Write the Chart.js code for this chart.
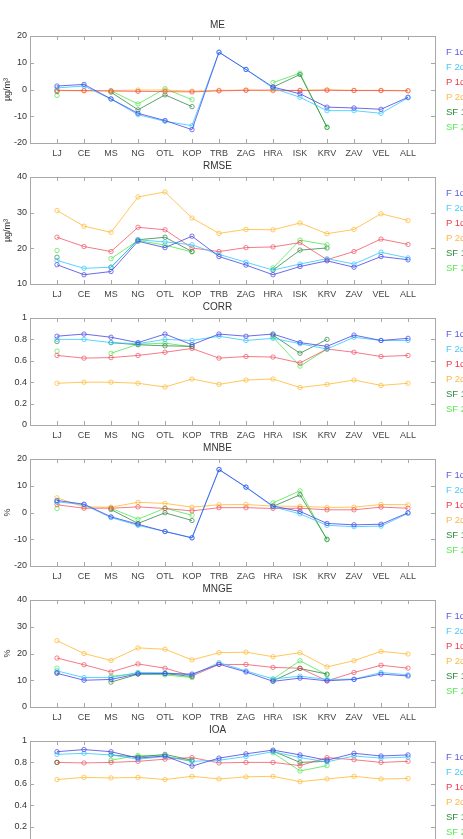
<!DOCTYPE html>
<html>
<head>
<meta charset="utf-8">
<script src="https://cdn.jsdelivr.net/npm/chart.js@4.4.0/dist/chart.umd.min.js"></script>
<style>
body { margin:0; width:463px; height:839px; overflow:hidden; background:#fff; position:relative; font-family:"Liberation Sans", Arial, sans-serif; }
.panel { position:absolute; left:0; width:463px; height:149px; }
.leg { position:absolute; left:446px; font-size:9.5px; line-height:10px; white-space:nowrap; }
</style>
</head>
<body>
<script>
var cats = ['LJ','CE','MS','NG','OTL','KOP','TRB','ZAG','HRA','ISK','KRV','ZAV','VEL','ALL'];
var seriesNames = ['F 1d','F 2d','P 1d','P 2d','SF 1','SF 2'];

// ME
var meF1 = [1.3, 1.9, -3.5, -8.9, -11.6, -15.0, 13.9, 7.5, 0.9, -1.6, -6.6, -6.9, -7.4, -2.9];
var meF2 = [0.6, 1.3, -3.6, -9.4, -11.9, -13.5, 14.0, 7.5, 0.5, -2.9, -7.9, -7.9, -8.9, -3.1];
var meP1 = [-0.3, -0.4, -0.6, -0.7, -0.8, -0.9, -0.5, -0.3, -0.2, -0.4, -0.3, -0.4, -0.4, -0.5];
var meP2 = [-0.4, -0.5, -0.4, -0.2, -0.2, -0.6, -0.3, -0.2, -0.5, -0.3, -0.1, -0.3, -0.3, -0.4];
var meSF1 = [-0.8, null, -1.0, -7.6, -2.0, -6.4, null, null, 0.9, 5.6, -14.1, null, null, null];
var meSF2 = [-2.2, null, -0.5, -5.4, 0.3, -3.8, null, null, 2.6, 6.1, -14.2, null, null, null];

// RMSE
var rmF1 = [15.4, 12.6, 13.5, 22.0, 20.2, 23.4, 17.7, 15.3, 12.6, 14.9, 16.5, 14.7, 17.7, 16.8];
var rmF2 = [16.6, 14.4, 14.7, 22.4, 21.8, 21.0, 18.3, 16.1, 13.9, 15.6, 17.1, 15.6, 18.9, 17.3];
var rmP1 = [23.1, 20.5, 19.1, 25.9, 25.2, 20.1, 19.1, 20.2, 20.4, 21.6, 16.8, 19.1, 22.6, 21.1];
var rmP2 = [30.6, 26.2, 24.5, 34.4, 35.8, 28.5, 24.2, 25.3, 25.2, 27.1, 24.1, 25.3, 29.7, 27.8];
var rmSF1 = [17.5, null, 14.7, 22.4, 23.1, 19.1, null, null, 13.9, 19.5, 20.1, null, null, null];
var rmSF2 = [19.4, null, 17.1, 22.2, 20.9, 19.0, null, null, 14.5, 22.3, 21.0, null, null, null];

// CORR
var coF1 = [0.83, 0.85, 0.82, 0.77, 0.85, 0.75, 0.85, 0.83, 0.85, 0.77, 0.735, 0.84, 0.79, 0.81];
var coF2 = [0.80, 0.80, 0.77, 0.76, 0.80, 0.79, 0.83, 0.79, 0.81, 0.76, 0.71, 0.82, 0.79, 0.79];
var coP1 = [0.65, 0.625, 0.63, 0.65, 0.68, 0.715, 0.625, 0.64, 0.635, 0.58, 0.71, 0.68, 0.64, 0.65];
var coP2 = [0.39, 0.40, 0.40, 0.39, 0.355, 0.43, 0.38, 0.42, 0.43, 0.35, 0.38, 0.42, 0.37, 0.39];
var coSF1 = [0.78, null, 0.77, 0.75, 0.74, 0.735, null, null, 0.84, 0.67, 0.80, null, null, null];
var coSF2 = [0.69, null, 0.67, 0.755, 0.765, 0.73, null, null, 0.82, 0.55, 0.71, null, null, null];

// MNBE
var mbF1 = [4.5, 3.1, -1.6, -4.4, -7.1, -9.5, 16.1, 9.5, 2.4, 0.4, -4.1, -4.6, -4.4, -0.1];
var mbF2 = [4.0, 2.9, -1.9, -4.8, -7.1, -9.4, 16.0, 9.4, 2.1, -0.5, -4.8, -5.3, -5.1, -0.3];
var mbP1 = [2.9, 1.6, 1.6, 2.1, 1.5, 0.6, 1.8, 1.8, 1.5, 1.6, 1.0, 1.0, 2.0, 1.6];
var mbP2 = [5.5, 2.1, 2.0, 3.8, 3.4, 2.0, 2.9, 3.0, 2.4, 2.3, 1.9, 2.0, 3.0, 2.9];
var mbSF1 = [3.9, null, 1.1, -4.1, -0.1, -3.0, null, null, 2.3, 6.6, -10.0, null, null, null];
var mbSF2 = [1.5, null, 1.6, -2.5, 1.6, -1.0, null, null, 3.6, 8.1, -10.2, null, null, null];

// MNGE
var mgF1 = [12.6, 10.0, 10.3, 12.4, 12.5, 12.3, 16.0, 13.1, 9.6, 10.8, 9.8, 10.3, 12.3, 11.6];
var mgF2 = [13.5, 11.0, 11.0, 12.9, 12.8, 11.9, 16.6, 13.5, 10.5, 11.5, 10.3, 10.4, 12.9, 12.0];
var mgP1 = [18.3, 15.8, 13.1, 16.1, 14.5, 11.6, 15.9, 15.9, 14.8, 14.5, 9.8, 12.9, 15.6, 14.5];
var mgP2 = [24.8, 20.0, 17.4, 22.1, 21.6, 17.6, 20.3, 20.5, 18.8, 20.3, 15.0, 17.3, 20.8, 19.8];
var mgSF1 = [12.9, null, 9.3, 12.3, 12.5, 11.4, null, null, 9.8, 14.4, 12.3, null, null, null];
var mgSF2 = [14.5, null, 11.5, 12.5, 12.0, 11.0, null, null, 10.4, 17.3, 12.0, null, null, null];

// IOA
var ioF1 = [0.90, 0.92, 0.90, 0.84, 0.86, 0.765, 0.84, 0.88, 0.915, 0.87, 0.82, 0.885, 0.86, 0.87];
var ioF2 = [0.875, 0.885, 0.87, 0.83, 0.855, 0.81, 0.82, 0.855, 0.90, 0.845, 0.805, 0.86, 0.84, 0.85];
var ioP1 = [0.80, 0.795, 0.80, 0.81, 0.83, 0.845, 0.795, 0.80, 0.80, 0.77, 0.845, 0.825, 0.80, 0.81];
var ioP2 = [0.64, 0.66, 0.655, 0.66, 0.64, 0.67, 0.645, 0.665, 0.67, 0.62, 0.645, 0.67, 0.645, 0.65];
var ioSF1 = [0.80, null, 0.87, 0.85, 0.875, 0.82, null, null, 0.905, 0.80, 0.81, null, null, null];
var ioSF2 = [0.80, null, 0.82, 0.865, 0.86, 0.81, null, null, 0.89, 0.72, 0.77, null, null, null];

var lineColors = ['rgba(70,70,230,0.8)','rgba(50,200,255,0.8)','rgba(240,50,70,0.65)','rgba(255,185,50,0.8)','rgba(40,130,60,0.75)','rgba(70,230,70,0.75)'];
var textColors = ['#5a5ae0','#4cc8f8','#ee3a4a','#fbb848','#2e8a3e','#5ae85a'];

var panels = [
  { title: 'ME',   unit: 'µg/m³', min: -20, max: 20, step: 10,  data: [meF1, meF2, meP1, meP2, meSF1, meSF2] },
  { title: 'RMSE', unit: 'µg/m³', min: 10,  max: 40, step: 10,  data: [rmF1, rmF2, rmP1, rmP2, rmSF1, rmSF2] },
  { title: 'CORR', unit: '',      min: 0,   max: 1,  step: 0.2, data: [coF1, coF2, coP1, coP2, coSF1, coSF2] },
  { title: 'MNBE', unit: '%',     min: -20, max: 20, step: 10,  data: [mbF1, mbF2, mbP1, mbP2, mbSF1, mbSF2] },
  { title: 'MNGE', unit: '%',     min: 0,   max: 40, step: 10,  data: [mgF1, mgF2, mgP1, mgP2, mgSF1, mgSF2] },
  { title: 'IOA',  unit: '',      min: 0,   max: 1,  step: 0.2, data: [ioF1, ioF2, ioP1, ioP2, ioSF1, ioSF2] }
];
var panelTops = [14, 155, 296, 437, 578, 719];
var legOffsets = [11, 26, 41, 56, 71, 86];

Chart.defaults.font.family = '"Liberation Sans", Arial, sans-serif';

// box around the axes plus MATLAB style inward ticks
var boxTicks = {
  id: 'boxTicks',
  afterDatasetsDraw: function(chart) {
    var ctx = chart.ctx, a = chart.chartArea;
    var xs = chart.scales.x, ys = chart.scales.y;
    ctx.save();
    ctx.strokeStyle = '#a8a8a8';
    ctx.lineWidth = 1;
    ctx.strokeRect(Math.round(a.left) + 0.5, Math.round(a.top) + 0.5, Math.round(a.right - a.left), Math.round(a.bottom - a.top));
    ctx.beginPath();
    for (var i = 1; i <= cats.length; i++) {
      var px = Math.round(xs.getPixelForValue(i)) + 0.5;
      ctx.moveTo(px, a.top); ctx.lineTo(px, a.top + 4);
      ctx.moveTo(px, a.bottom); ctx.lineTo(px, a.bottom - 4);
    }
    ys.ticks.forEach(function(t) {
      var py = Math.round(ys.getPixelForValue(t.value)) + 0.5;
      ctx.moveTo(a.left, py); ctx.lineTo(a.left + 4, py);
      ctx.moveTo(a.right, py); ctx.lineTo(a.right - 4, py);
    });
    ctx.stroke();
    ctx.restore();
  }
};

panels.forEach(function(p, k) {
  var div = document.createElement('div');
  div.className = 'panel';
  div.style.top = panelTops[k] + 'px';
  var canvas = document.createElement('canvas');
  canvas.width = 463;
  canvas.height = 149;
  div.appendChild(canvas);
  document.body.appendChild(div);

  var datasets = [];
  for (var s = 0; s < p.data.length; s++) {
    datasets.push({
      label: seriesNames[s],
      data: p.data[s].map(function(v, i) { return { x: i + 1, y: v }; }),
      borderColor: lineColors[s],
      backgroundColor: 'rgba(0,0,0,0)',
      borderWidth: 1,
      pointRadius: 2.2,
      pointBorderWidth: 0.9,
      pointBorderColor: lineColors[s],
      pointBackgroundColor: 'rgba(0,0,0,0)',
      spanGaps: false,
      tension: 0
    });
  }

  new Chart(canvas, {
    type: 'line',
    data: { datasets: datasets },
    options: {
      responsive: false,
      animation: false,
      layout: { padding: { left: 0, right: 28, top: 0, bottom: 0 } },
      plugins: {
        legend: { display: false },
        tooltip: { enabled: false },
        title: { display: true, text: p.title, color: '#333', font: { size: 10, weight: 'normal' }, padding: { top: 5, bottom: 5 } }
      },
      scales: {
        x: {
          type: 'linear', min: 0, max: 15,
          grid: { display: false, drawTicks: false },
          border: { display: false },
          ticks: {
            stepSize: 1, autoSkip: false, maxRotation: 0, padding: 5,
            color: '#444', font: { size: 9 },
            callback: function(v) { return cats[v - 1] || ''; }
          },
          afterFit: function(sc) { sc.height = 20; }
        },
        y: {
          min: p.min, max: p.max,
          grid: { display: false, drawTicks: false },
          border: { display: false },
          ticks: {
            stepSize: p.step, padding: 3, color: '#333', font: { size: 9 },
            callback: function(v) { return String(Math.round(v * 10) / 10); }
          },
          title: { display: p.unit !== '', text: p.unit, color: '#333', font: { size: 9 }, padding: { top: 2, bottom: 0 } },
          afterFit: function(sc) { sc.width = 30; }
        }
      }
    },
    plugins: [boxTicks]
  });

  for (var j = 0; j < seriesNames.length; j++) {
    var lg = document.createElement('div');
    lg.className = 'leg';
    lg.style.top = (panelTops[k] + 22 + legOffsets[j]) + 'px';
    lg.style.color = textColors[j];
    lg.textContent = seriesNames[j];
    document.body.appendChild(lg);
  }
});
</script>
</body>
</html>
